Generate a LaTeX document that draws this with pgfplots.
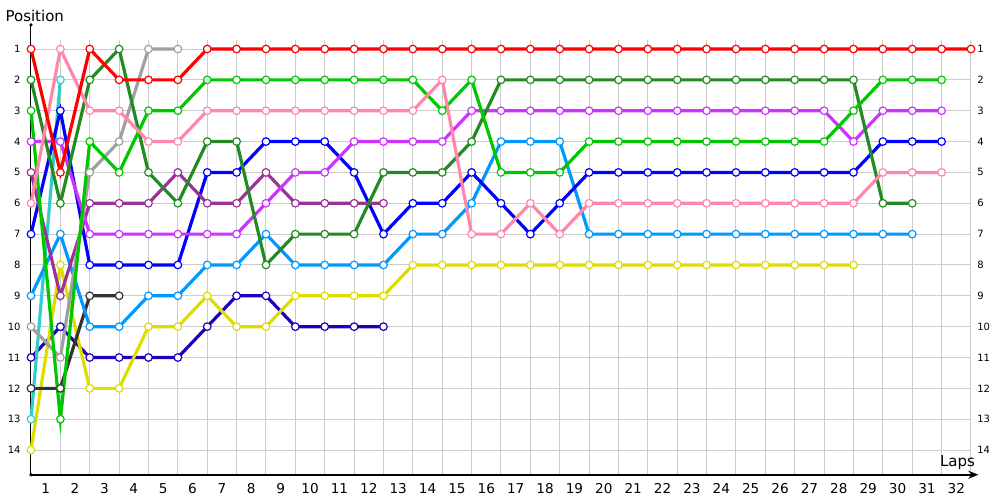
\documentclass[border=0pt]{standalone}
\usepackage{pgfplots}
\pgfplotsset{compat=1.18}
\usepackage{fontspec}
\setmainfont{DejaVu Sans}
\usetikzlibrary{arrows.meta}
\definecolor{cRed}{HTML}{FF0000}
\definecolor{cPink}{HTML}{FF88AA}
\definecolor{cGreen}{HTML}{00C800}
\definecolor{cDkGreen}{HTML}{228B22}
\definecolor{cGray}{HTML}{A0A0A0}
\definecolor{cViolet}{HTML}{CC33FF}
\definecolor{cPlum}{HTML}{993399}
\definecolor{cBlue}{HTML}{0000FF}
\definecolor{cLtBlue}{HTML}{0099FF}
\definecolor{cCyan}{HTML}{33CCCC}
\definecolor{cDkGray}{HTML}{333333}
\definecolor{cYellow}{HTML}{DDDD00}
\definecolor{cNavy}{HTML}{2200BB}
\definecolor{gridc}{HTML}{CCCCCC}
\pgfplotsset{drv/.style={draw=#1, line width=1.6pt, mark=*, mark size=1.9pt,
  mark options={draw=#1, fill=white, line width=0.6pt}}}
\begin{document}
\begin{tikzpicture}
\begin{axis}[
  at={(0,0)}, anchor=north west,
  scale only axis, width=473.65pt, height=225.2pt,
  xmin=0, xmax=32.25, ymin=0.2, ymax=14.8,
  y dir=reverse, clip=false, set layers,
  axis line style={draw=none},
  major tick length=0pt,
  xtick={0.5,1.5,2.5,3.5,4.5,5.5,6.5,7.5,8.5,9.5,10.5,11.5,12.5,13.5,14.5,15.5,16.5,17.5,18.5,19.5,20.5,21.5,22.5,23.5,24.5,25.5,26.5,27.5,28.5,29.5,30.5,31.5},
  xticklabels={1,2,3,4,5,6,7,8,9,10,11,12,13,14,15,16,17,18,19,20,21,22,23,24,25,26,27,28,29,30,31,32},
  ytick={1,2,3,4,5,6,7,8,9,10,11,12,13,14},
  xticklabel style={font=\fontsize{6.8}{8}\selectfont, inner sep=0pt, anchor=north, yshift=-4pt},
  yticklabel style={font=\fontsize{5}{6}\selectfont, inner sep=0pt, anchor=east, xshift=-5pt},
  /pgf/number format/assume math mode=true,
]
\begin{pgfonlayer}{axis background}
\pgfplotsinvokeforeach{0,...,32}{\draw[gridc, line width=0.5pt] (axis cs:#1,0.7) -- (axis cs:#1,14.8);}
\pgfplotsinvokeforeach{1,...,14}{\draw[gridc, line width=0.5pt] (axis cs:0,#1) -- (axis cs:32,#1);}
\end{pgfonlayer}
\draw[black, line width=0.5pt] (axis cs:0,14.8) -- (axis cs:0,0.22);
\fill[black] (axis cs:0,0.22) circle (0.9pt);
\fill[black] (axis cs:0,14.8) circle (0.9pt);
\draw[black, line width=1pt, -{Stealth[length=5pt,width=4pt]}] (axis cs:0,14.8) -- (axis cs:32.25,14.8);
\pgfplotsinvokeforeach{1,...,14}{\node[anchor=west, inner sep=0pt, xshift=3pt, font=\fontsize{5}{6}\selectfont] at (axis cs:32,#1) {#1};}
\node[font=\fontsize{7.5}{9}\selectfont, anchor=south west, inner sep=0pt] at (axis cs:-0.88,0.12) {Position};
\node[font=\fontsize{7.5}{9}\selectfont, anchor=south east, inner sep=0pt] at (axis cs:32.15,14.65) {Laps};

% navy
\addplot[drv=cNavy] coordinates {(0,11)(1,10)(2,11)(3,11)(4,11)(5,11)(6,10)(7,9)(8,9)(9,10)(10,10)(11,10)(12,10)};
% yellow
\addplot[drv=cYellow] coordinates {(0,14)(1,8)(2,12)(3,12)(4,10)(5,10)(6,9)(7,10)(8,10)(9,9)(10,9)(11,9)(12,9)(13,8)(14,8)(15,8)(16,8)(17,8)(18,8)(19,8)(20,8)(21,8)(22,8)(23,8)(24,8)(25,8)(26,8)(27,8)(28,8)};
% dark gray
\addplot[drv=cDkGray] coordinates {(0,12)(1,12)(2,9)(3,9)};
% cyan
\addplot[drv=cCyan] coordinates {(0,13)(1,2)};
% light blue
\addplot[drv=cLtBlue] coordinates {(0,9)(1,7)(2,10)(3,10)(4,9)(5,9)(6,8)(7,8)(8,7)(9,8)(10,8)(11,8)(12,8)(13,7)(14,7)(15,6)(16,4)(17,4)(18,4)(19,7)(20,7)(21,7)(22,7)(23,7)(24,7)(25,7)(26,7)(27,7)(28,7)(29,7)(30,7)};
% blue
\addplot[drv=cBlue] coordinates {(0,7)(1,3)(2,8)(3,8)(4,8)(5,8)(6,5)(7,5)(8,4)(9,4)(10,4)(11,5)(12,7)(13,6)(14,6)(15,5)(16,6)(17,7)(18,6)(19,5)(20,5)(21,5)(22,5)(23,5)(24,5)(25,5)(26,5)(27,5)(28,5)(29,4)(30,4)(31,4)};
% plum
\addplot[drv=cPlum] coordinates {(0,5)(1,9)(2,6)(3,6)(4,6)(5,5)(6,6)(7,6)(8,5)(9,6)(10,6)(11,6)(12,6)};
% violet
\addplot[drv=cViolet] coordinates {(0,4)(1,4)(2,7)(3,7)(4,7)(5,7)(6,7)(7,7)(8,6)(9,5)(10,5)(11,4)(12,4)(13,4)(14,4)(15,3)(16,3)(17,3)(18,3)(19,3)(20,3)(21,3)(22,3)(23,3)(24,3)(25,3)(26,3)(27,3)(28,4)(29,3)(30,3)(31,3)};
% gray
\addplot[drv=cGray] coordinates {(0,10)(1,11)(2,5)(3,4)(4,1)(5,1)};
% dark green
\addplot[drv=cDkGreen] coordinates {(0,2)(1,6)(2,2)(3,1)(4,5)(5,6)(6,4)(7,4)(8,8)(9,7)(10,7)(11,7)(12,5)(13,5)(14,5)(15,4)(16,2)(17,2)(18,2)(19,2)(20,2)(21,2)(22,2)(23,2)(24,2)(25,2)(26,2)(27,2)(28,2)(29,6)(30,6)};
% green
\addplot[drv=cGreen] coordinates {(0,3)(1,13)(2,4)(3,5)(4,3)(5,3)(6,2)(7,2)(8,2)(9,2)(10,2)(11,2)(12,2)(13,2)(14,3)(15,2)(16,5)(17,5)(18,5)(19,4)(20,4)(21,4)(22,4)(23,4)(24,4)(25,4)(26,4)(27,4)(28,3)(29,2)(30,2)(31,2)};
% pink
\addplot[drv=cPink] coordinates {(0,6)(1,1)(2,3)(3,3)(4,4)(5,4)(6,3)(7,3)(8,3)(9,3)(10,3)(11,3)(12,3)(13,3)(14,2)(15,7)(16,7)(17,6)(18,7)(19,6)(20,6)(21,6)(22,6)(23,6)(24,6)(25,6)(26,6)(27,6)(28,6)(29,5)(30,5)(31,5)};
% red
\addplot[drv=cRed] coordinates {(0,1)(1,5)(2,1)(3,2)(4,2)(5,2)(6,1)(7,1)(8,1)(9,1)(10,1)(11,1)(12,1)(13,1)(14,1)(15,1)(16,1)(17,1)(18,1)(19,1)(20,1)(21,1)(22,1)(23,1)(24,1)(25,1)(26,1)(27,1)(28,1)(29,1)(30,1)(31,1)(32,1)};
\end{axis}
\pgfresetboundingbox
\useasboundingbox (-15.5pt,12.16pt) rectangle (484.5pt,-237.84pt);
\end{tikzpicture}
\end{document}
